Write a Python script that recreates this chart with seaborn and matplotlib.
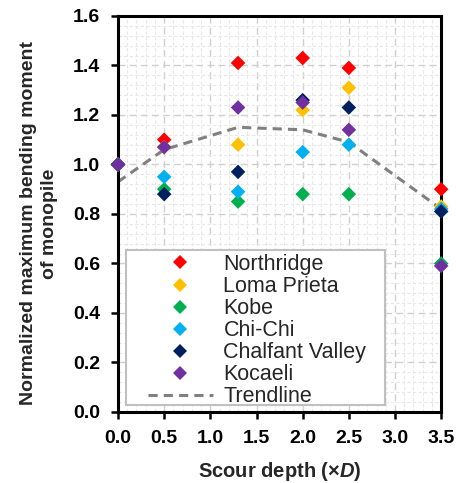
import numpy as np
import pandas as pd
import matplotlib
matplotlib.use("Agg")
import matplotlib.pyplot as plt
import matplotlib.patches as mpatches
from matplotlib.lines import Line2D
from matplotlib.ticker import MultipleLocator
import seaborn as sns

sns.set_theme(style="white")
plt.rcParams['font.family'] = ['Liberation Sans', 'DejaVu Sans']
plt.rcParams['mathtext.fontset'] = 'custom'
plt.rcParams['mathtext.it'] = 'Liberation Sans:italic:bold'
plt.rcParams['mathtext.rm'] = 'Liberation Sans:bold'

scour_depth = [0.0, 0.5, 1.3, 2.0, 2.5, 3.5]
events = ["Northridge", "Loma Prieta", "Kobe", "Chi-Chi", "Chalfant Valley", "Kocaeli"]
northridge = [1.00, 1.10, 1.41, 1.43, 1.39, 0.90]
loma_prieta = [1.00, 1.07, 1.08, 1.22, 1.31, 0.83]
kobe = [1.00, 0.90, 0.85, 0.88, 0.88, 0.60]
chi_chi = [1.00, 0.95, 0.89, 1.05, 1.08, 0.82]
chalfant_valley = [1.00, 0.88, 0.97, 1.26, 1.23, 0.81]
kocaeli = [1.00, 1.07, 1.23, 1.25, 1.14, 0.59]
trendline = [0.93, 1.06, 1.15, 1.14, 1.09, 0.82]
colors = ["#FF0000", "#FFC000", "#00B050", "#00B0F0", "#002060", "#7030A0"]

series = [northridge, loma_prieta, kobe, chi_chi, chalfant_valley, kocaeli]
df = pd.DataFrame({
    "x": np.tile(scour_depth, len(events)),
    "y": np.concatenate(series),
    "event": np.repeat(events, len(scour_depth)),
})
trend_df = pd.DataFrame({"x": scour_depth, "y": trendline})

fig = plt.figure(figsize=(4.61, 4.83), dpi=100)
ax = fig.add_axes([0.256, 0.147, 0.701, 0.820])

dash = (0, (3.0, 2.0))
sns.lineplot(data=trend_df, x="x", y="y", ax=ax, color="#808080",
             linestyle=dash, linewidth=2.2, zorder=2)
sns.scatterplot(data=df, x="x", y="y", hue="event", hue_order=events,
                palette=colors, marker="D", s=55, edgecolor="none",
                ax=ax, zorder=3, legend=False, clip_on=False)

ax.set_xlim(0, 3.5)
ax.set_ylim(0, 1.6)
ax.xaxis.set_major_locator(MultipleLocator(0.5))
ax.yaxis.set_major_locator(MultipleLocator(0.2))
ax.xaxis.set_minor_locator(MultipleLocator(0.1))
ax.yaxis.set_minor_locator(MultipleLocator(0.04))
ax.grid(which="major", linestyle=(0, (5, 3)), color="#d0d0d0", linewidth=1.0)
ax.grid(which="minor", linestyle=(0, (3, 2)), color="#e8e8e8", linewidth=0.8)
ax.set_axisbelow(True)

for sp in ax.spines.values():
    sp.set_visible(True)
    sp.set_color("black")
    sp.set_linewidth(2.2)

ax.tick_params(which="major", direction="out", length=5, width=1.8,
               bottom=True, left=True, top=False, right=False,
               labelsize=14, pad=8, colors="black")
ax.tick_params(which="minor", length=0)
ax.set_xticklabels([f"{v:.1f}" for v in ax.get_xticks()], fontweight="bold")
ax.set_yticklabels([f"{v:.1f}" for v in ax.get_yticks()], fontweight="bold")

ax.set_xlabel(r"Scour depth (×$\it{D}$)", fontsize=14.5, fontweight="bold")
ax.xaxis.set_label_coords(0.5, -0.122)
ax.set_ylabel("Normalized maximum bending moment\nof monopile", fontsize=14,
              fontweight="bold", linespacing=1.3)
ax.yaxis.set_label_coords(-0.186, 0.476)

# legend frame with soft shadow
rect = mpatches.Rectangle((0.0248, 0.0177), 0.802, 0.391, transform=ax.transAxes,
                          facecolor="white", edgecolor="#c0c0c0", linewidth=1.5,
                          zorder=4)
for k, a in [(4, 0.15), (3, 0.2), (2, 0.25)]:
    sh = mpatches.Shadow(rect, k, -k, facecolor="#909090", edgecolor="none",
                         alpha=a, zorder=3.9)
    ax.add_patch(sh)
ax.add_patch(rect)

handles = [Line2D([], [], marker="D", linestyle="none", color=c, markersize=7.5,
                  markeredgewidth=0) for c in colors]
handles.append(Line2D([], [], color="#808080", linestyle=dash, linewidth=2.2))
labels = events + ["Trendline"]
leg = ax.legend(handles, labels, loc="upper left", bbox_to_anchor=(0.093, 0.399),
                fontsize=15.5, frameon=False,
                borderpad=0.0, labelspacing=0.05, handlelength=3.0,
                handletextpad=0.5, borderaxespad=0)
leg.set_zorder(5)

fig.savefig("out.png", dpi=100)
